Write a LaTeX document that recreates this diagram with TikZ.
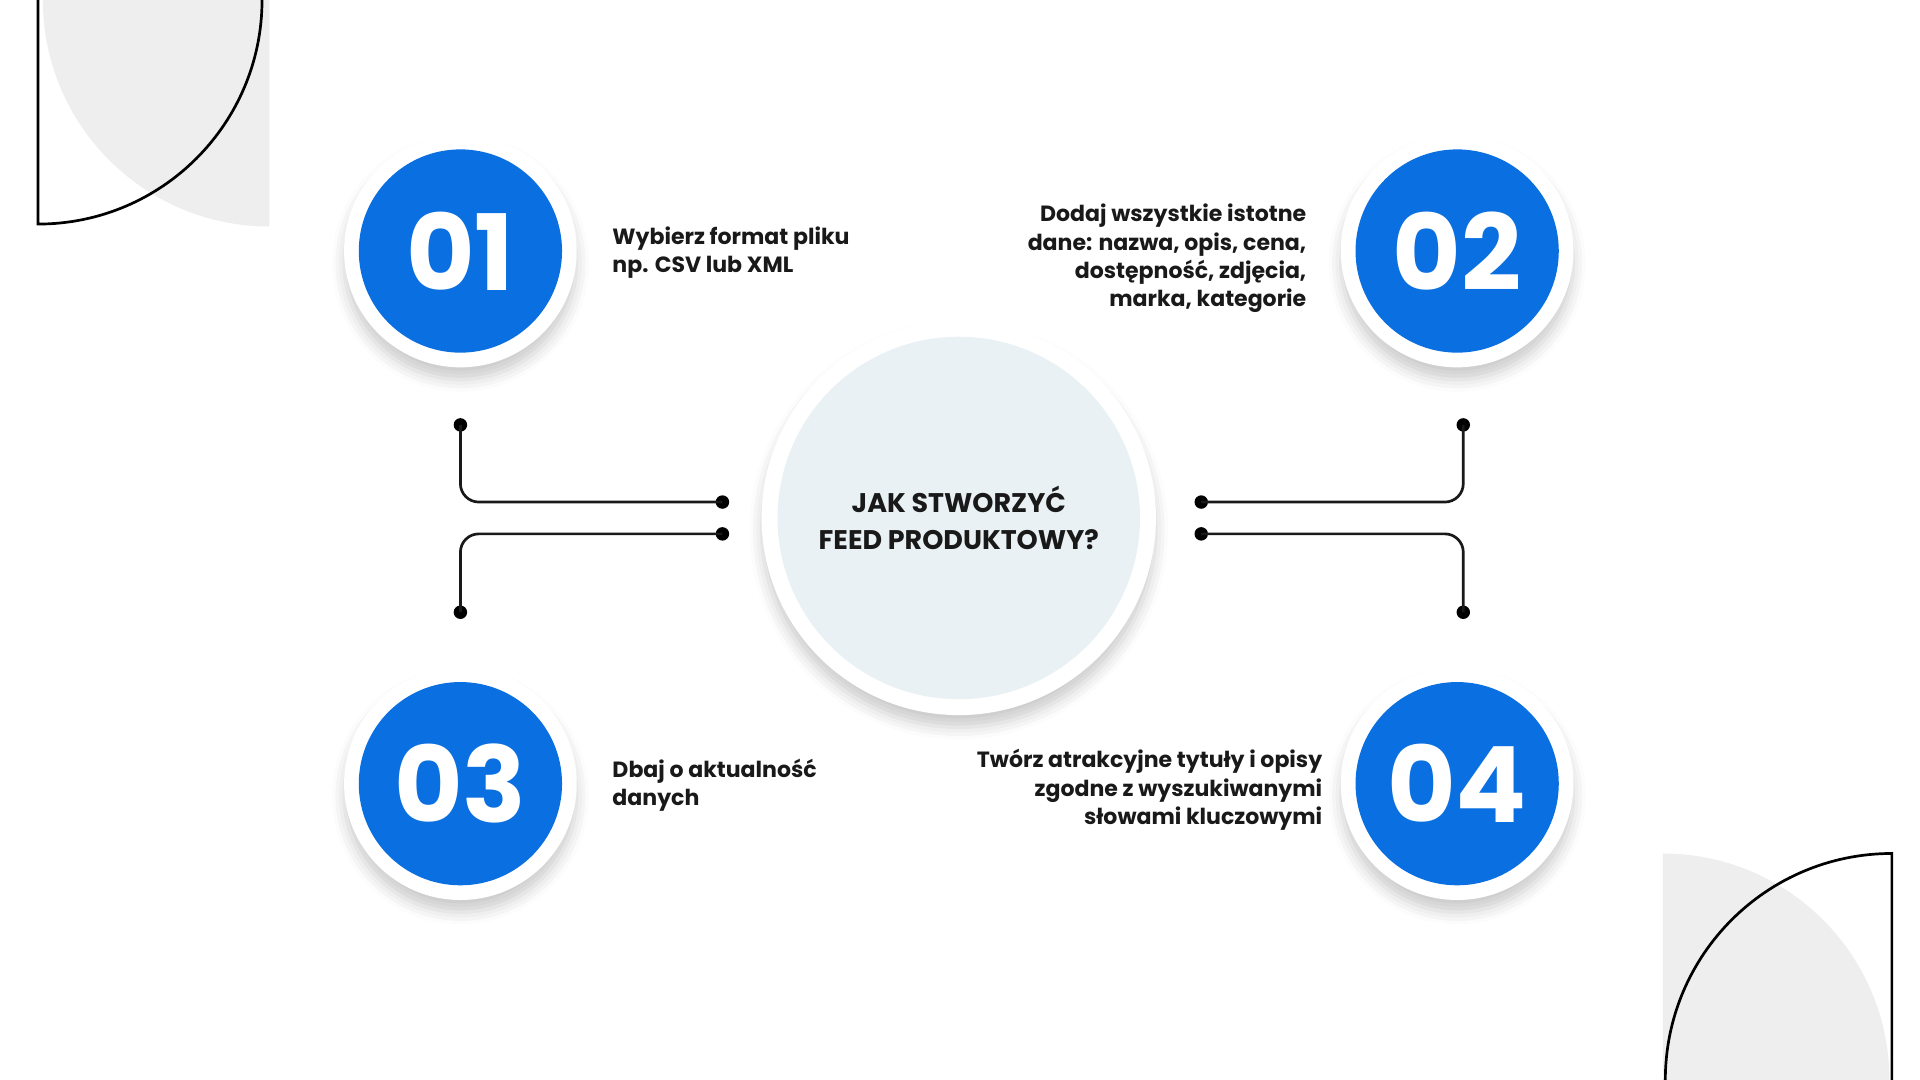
\documentclass[tikz,border=0pt]{standalone}
\usepackage{fontspec}
\setmainfont{Poppins}
\usetikzlibrary{shadows.blur}
\definecolor{blu}{HTML}{0A6FE0}
\definecolor{pale}{HTML}{E9F1F4}
\definecolor{deco}{HTML}{EEEEEE}
\begin{document}
\begin{tikzpicture}[x=1pt,y=-1pt,
  ring/.style={circle,fill=white,minimum size=190pt,inner sep=0,blur shadow={shadow xshift=0pt,shadow yshift=-10pt,shadow blur radius=10pt,shadow opacity=20}},
  num/.style={circle,fill=blu,minimum size=166pt,inner sep=0,text=white,font=\fontsize{86}{86}\selectfont\bfseries},
  lbl/.style={font=\fontsize{18}{23}\selectfont\bfseries,text=black!90,inner sep=0},
  wire/.style={line width=2.2pt,black!90,rounded corners=15pt},
  dot/.style={circle,fill=black,minimum size=11pt,inner sep=0}]
\useasboundingbox (0,0) rectangle (1568,882);
% decorations
\fill[deco] (220,0) -- (35,0) arc[start angle=180,end angle=90,radius=185] -- cycle;
\draw[line width=2.2pt] (214,0) arc[start angle=0,end angle=90,radius=183] -- (31,0);
\fill[deco] (1358,882) -- (1358,697) arc[start angle=-90,end angle=0,radius=185] -- cycle;
\draw[line width=2.2pt] (1360,882) arc[start angle=180,end angle=270,radius=185] -- (1545,882);
% center
\node[ring,minimum size=322pt] (cr) at (783,423) {};
\node[circle,fill=pale,minimum size=296pt,inner sep=0,align=center,font=\fontsize{22}{30}\selectfont\bfseries,text=black!90] (c) at (783,423) {JAK STWORZYĆ\\FEED PRODUKTOWY?};
% number circles
\foreach \n/\x/\y in {01/376/205,02/1190/205,03/376/640,04/1190/640}{
  \node[ring] (r\n) at (\x,\y) {};
  \node[num] (n\n) at (\x,\y) {\n};
}
% labels
\node[lbl,anchor=west,align=left] (t1) at (500,206) {Wybierz format pliku\\np. CSV lub XML};
\node[lbl,anchor=east,align=right] (t2) at (1067,211) {Dodaj wszystkie istotne\\dane: nazwa, opis, cena,\\dostępność, zdjęcia,\\marka, kategorie};
\node[lbl,anchor=west,align=left] (t3) at (500,641) {Dbaj o aktualność\\danych};
\node[lbl,anchor=east,align=right] (t4) at (1080,645) {Twórz atrakcyjne tytuły i opisy\\zgodne z wyszukiwanymi\\słowami kluczowymi};
% connector dots
\node[dot] (a1) at (376,347) {}; \node[dot] (b1) at (590,410) {};
\node[dot] (a3) at (376,500) {}; \node[dot] (b3) at (590,436) {};
\node[dot] (a2) at (1195,347) {}; \node[dot] (b2) at (981,410) {};
\node[dot] (a4) at (1195,500) {}; \node[dot] (b4) at (981,436) {};
\draw[wire] (a1.center) |- (b1.center);
\draw[wire] (a3.center) |- (b3.center);
\draw[wire] (a2.center) |- (b2.center);
\draw[wire] (a4.center) |- (b4.center);
\end{tikzpicture}
\end{document}
